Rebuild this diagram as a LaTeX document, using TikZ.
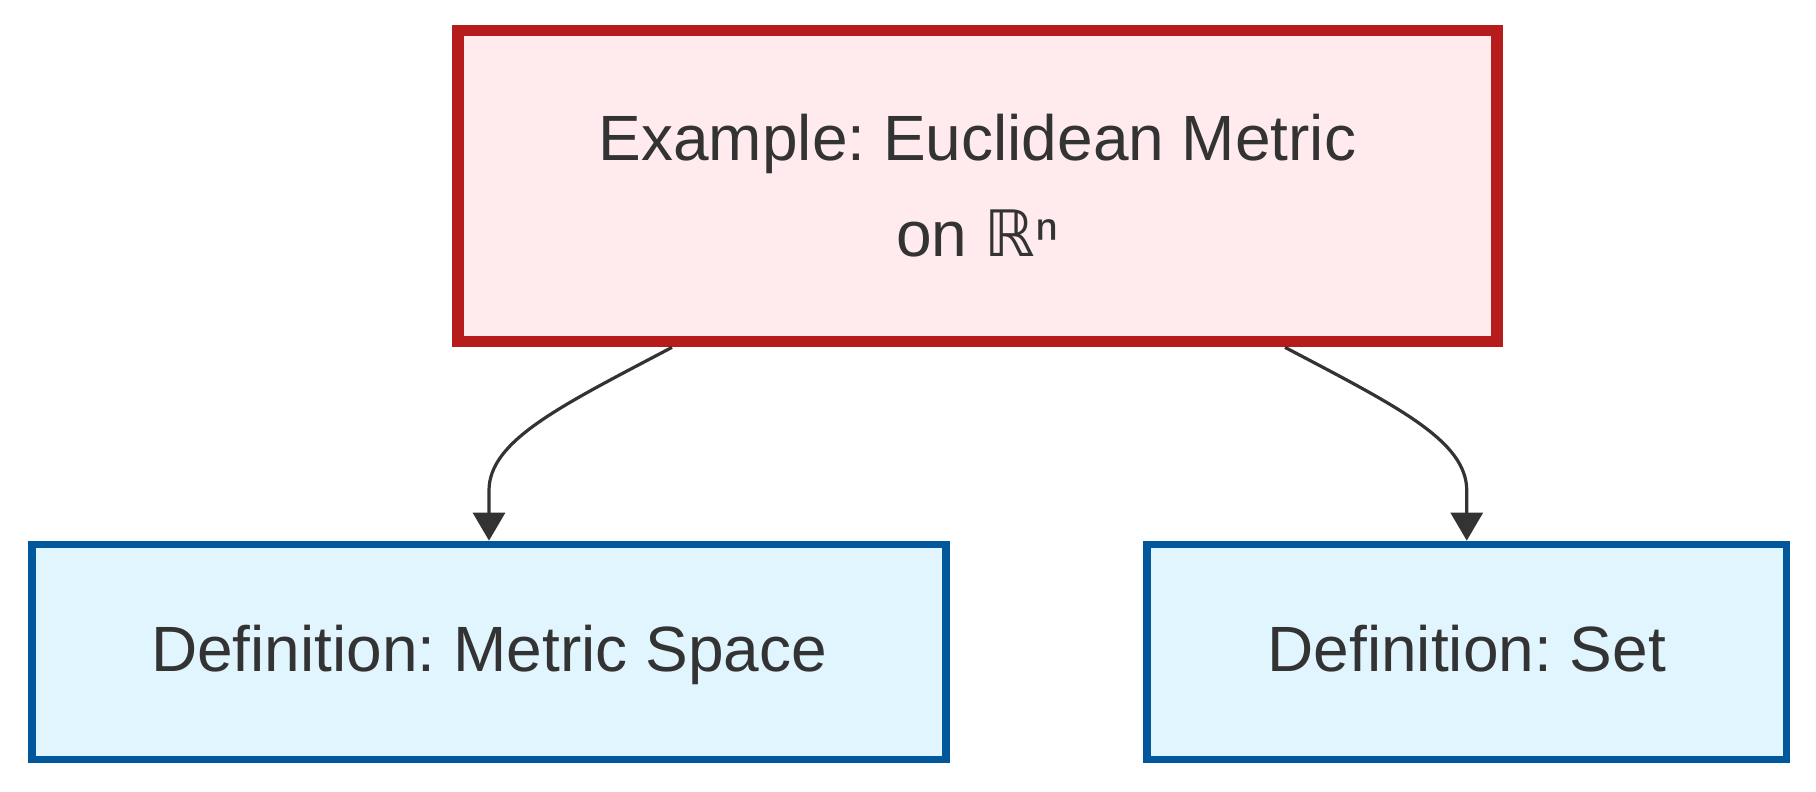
\documentclass[tikz,border=0pt]{standalone}
\usepackage{fontspec}
\setmainfont{Liberation Sans}
\newfontfamily\dejavu{DejaVu Sans}
\usetikzlibrary{arrows.meta,calc}
\definecolor{exfill}{HTML}{FFEBEE}
\definecolor{exdraw}{HTML}{B71C1C}
\definecolor{deffill}{HTML}{E1F5FE}
\definecolor{defdraw}{HTML}{01579B}
\definecolor{txt}{HTML}{333333}
\tikzset{
  exbox/.style={draw=exdraw, fill=exfill, line width=5.6pt, rectangle, inner sep=0pt,
    text=txt, align=center, font=\fontsize{32}{48}\selectfont\frenchspacing},
  defbox/.style={draw=defdraw, fill=deffill, line width=3.6pt, rectangle, inner sep=0pt,
    text=txt, align=center, text height=19.5pt, text depth=0pt,
    font=\fontsize{32}{48}\selectfont\frenchspacing},
  link/.style={draw=txt, line width=1.6pt, -{Triangle[width=16pt,length=14pt]}}
}
\begin{document}
\begin{tikzpicture}[x=0.5pt,y=-0.5pt]
\useasboundingbox (0,0) rectangle (1816,792);
\node[exbox, minimum width=519.5pt, minimum height=155.75pt] (top) at (977.5,186)
  {Example: Euclidean Metric\\on {\dejavu ℝ}ⁿ};
\node[defbox, minimum width=457pt, minimum height=107.75pt] (ms) at (489,652)
  {Definition: Metric Space};
\node[defbox, minimum width=319.75pt, minimum height=107.75pt] (set) at (1466.75,652)
  {Definition: Set};
\coordinate (s1) at ($(top.south)+(-305.5,0)$);
\coordinate (s2) at ($(top.south)+(307.5,0)$);
\draw[link] (s1) .. controls ($(s1)+(-112,59)$) and ($(ms.north)+(0,-100)$) .. ($(ms.north)+(0,-50)$) -- (ms.north);
\draw[link] (s2) .. controls ($(s2)+(112,59)$) and ($(set.north)+(0,-100)$) .. ($(set.north)+(0,-50)$) -- (set.north);
\end{tikzpicture}
\end{document}
